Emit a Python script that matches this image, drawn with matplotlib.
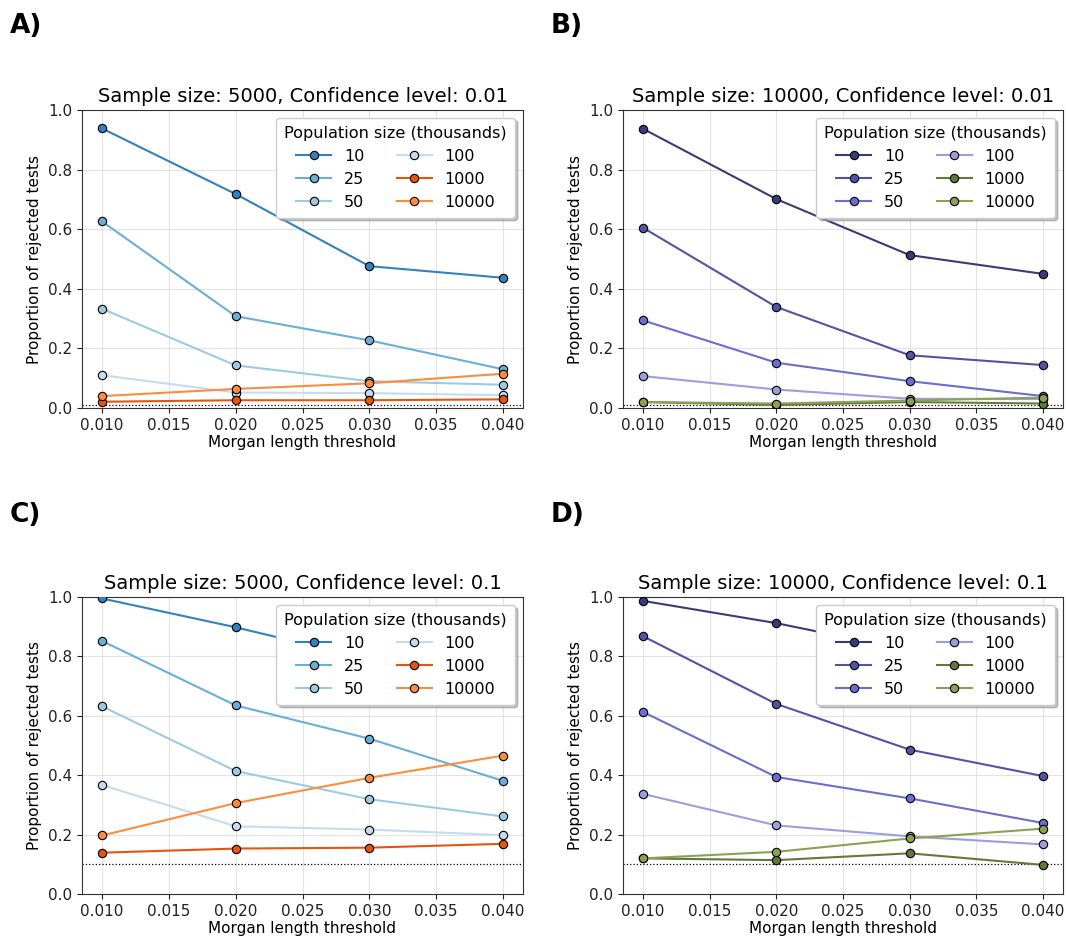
import matplotlib
matplotlib.use("Agg")
import matplotlib.pyplot as plt

thresholds = [0.010, 0.020, 0.030, 0.040]
pop_labels = ["10", "25", "50", "100", "1000", "10000"]

# Panel A: sample 5000, confidence 0.01
a_vals = {
    "10":    [0.938, 0.718, 0.476, 0.437],
    "25":    [0.626, 0.308, 0.227, 0.130],
    "50":    [0.333, 0.143, 0.090, 0.078],
    "100":   [0.110, 0.052, 0.050, 0.043],
    "1000":  [0.021, 0.026, 0.026, 0.029],
    "10000": [0.040, 0.064, 0.083, 0.115],
}
# Panel B: sample 10000, confidence 0.01
b_vals = {
    "10":    [0.937, 0.701, 0.513, 0.450],
    "25":    [0.605, 0.339, 0.177, 0.144],
    "50":    [0.294, 0.152, 0.090, 0.040],
    "100":   [0.107, 0.062, 0.031, 0.030],
    "1000":  [0.020, 0.010, 0.020, 0.015],
    "10000": [0.020, 0.015, 0.025, 0.035],
}
# Panel C: sample 5000, confidence 0.1
c_vals = {
    "10":    [0.995, 0.898, 0.790, 0.690],
    "25":    [0.852, 0.635, 0.523, 0.381],
    "50":    [0.632, 0.414, 0.319, 0.261],
    "100":   [0.367, 0.228, 0.217, 0.198],
    "1000":  [0.139, 0.153, 0.156, 0.169],
    "10000": [0.197, 0.306, 0.391, 0.466],
}
# Panel D: sample 10000, confidence 0.1
d_vals = {
    "10":    [0.987, 0.912, 0.820, 0.730],
    "25":    [0.868, 0.640, 0.486, 0.397],
    "50":    [0.613, 0.394, 0.322, 0.239],
    "100":   [0.337, 0.231, 0.194, 0.167],
    "1000":  [0.120, 0.114, 0.137, 0.098],
    "10000": [0.120, 0.142, 0.187, 0.220],
}

colors_c = ["#3182bd", "#6baed6", "#9ecae1", "#c6dbef", "#e6550d", "#fd8d3c"]
colors_b = ["#393b79", "#5254a3", "#6b6ecf", "#9c9ede", "#637939", "#8ca252"]

panels = [
    ("A)", "Sample size: 5000, Confidence level: 0.01", a_vals, colors_c, 0.01),
    ("B)", "Sample size: 10000, Confidence level: 0.01", b_vals, colors_b, 0.01),
    ("C)", "Sample size: 5000, Confidence level: 0.1", c_vals, colors_c, 0.1),
    ("D)", "Sample size: 10000, Confidence level: 0.1", d_vals, colors_b, 0.1),
]

W, H = 1066, 939
fig = plt.figure(figsize=(W / 100, H / 100), dpi=100)

positions = [
    (82, 110, 523, 408),
    (623, 110, 1063, 408),
    (82, 597, 523, 894),
    (623, 597, 1063, 894),
]
letter_pos = [(10, 26), (551, 26), (10, 515), (551, 515)]

for (letter, title, vals, cols, conf), (l, t, r, b), (lx, ly) in zip(panels, positions, letter_pos):
    ax = fig.add_axes([l / W, 1 - b / H, (r - l) / W, (b - t) / H])
    for lab, col in zip(pop_labels, cols):
        ax.plot(thresholds, vals[lab], "-o", color=col, lw=1.5, ms=6,
                mec="black", mew=0.8, label=lab, zorder=3)
    ax.axhline(conf, color="black", ls=":", lw=0.9, zorder=2)
    ax.set_ylim(0, 1.0)
    ax.set_xticks([0.010, 0.015, 0.020, 0.025, 0.030, 0.035, 0.040])
    ax.set_xticklabels(["0.010", "0.015", "0.020", "0.025", "0.030", "0.035", "0.040"])
    ax.set_yticks([0.0, 0.2, 0.4, 0.6, 0.8, 1.0])
    ax.tick_params(labelsize=11, colors="#222222")
    ax.grid(True, color="#dddddd", lw=0.8, alpha=0.8)
    ax.set_axisbelow(True)
    for s in ax.spines.values():
        s.set_color("#333333")
    ax.set_title(title, fontsize=14, pad=6)
    ax.set_xlabel("Morgan length threshold", fontsize=11, labelpad=2)
    ax.set_ylabel("Proportion of rejected tests", fontsize=11)
    leg = ax.legend(title="Population size (thousands)", ncol=2, loc="upper right",
                    fontsize=11.5, title_fontsize=11.6,
                    shadow={"color": "#999999", "alpha": 0.6, "ox": 2, "oy": -2},
                    framealpha=1,
                    columnspacing=2.0, handlelength=2.2, borderpad=0.5,
                    labelspacing=0.5)
    leg.set_zorder(10)
    fig.text(lx / W, 1 - ly / H, letter, fontsize=19, fontweight="bold",
             va="center", ha="left")

fig.savefig("out.png", dpi=100)
